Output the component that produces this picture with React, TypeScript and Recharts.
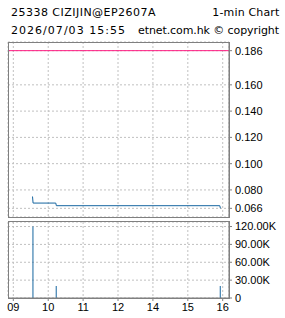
import React from "react";
import {
  ComposedChart,
  Line,
  Bar,
  XAxis,
  YAxis,
  CartesianGrid,
  ReferenceLine,
} from "recharts";

// ---- data ----
const priceTimes = ["09:33", "09:34", "10:13", "10:14", "15:55", "15:56"];
const prices = [0.075, 0.07, 0.07, 0.068, 0.068, 0.066];

const volTimes = ["09:34", "10:14", "15:56"];
const volumes = [120000, 20000, 20000];

const refPrice = 0.186;

const xTickLabels = ["09", "10", "11", "12", "14", "15", "16"];
const priceTicks = [0.066, 0.08, 0.1, 0.12, 0.14, 0.16, 0.186];
const volTicks = [0, 30000, 60000, 90000, 120000];

const titleLeft = "25338 CIZIJIN@EP2607A";
const titleRight = "1-min Chart";
const subLeft = "2026/07/03 15:55";
const subRight = "etnet.com.hk © copyright";

// trading-time position: hours since 09:00 with lunch hour removed
const toX = (t: string) => {
  const [h, m] = t.split(":").map(Number);
  let v = h + m / 60 - 9;
  if (h >= 13) v -= 1;
  return v;
};

const priceData = priceTimes.map((t, i) => ({ x: toX(t), price: prices[i] }));
const volData = volTimes.map((t, i) => ({ x: toX(t), vol: volumes[i] }));
const xTicks = xTickLabels.map((_, i) => i);

const BLUE = "#1565a0";
const PINK = "#ff1a80";
const GRID = "#c0c0c0";
const BORDER = "#808080";
const AXIS_FONT = "'Liberation Sans', Arial, sans-serif";
const HEAD_FONT = "'DejaVu Sans', Verdana, sans-serif";

const xDomain: [number, number] = [-0.152, 6.18];

const Box = ({ left, top, width, height }: any) => (
  <div
    style={{
      position: "absolute",
      left,
      top,
      width,
      height,
      border: `1px solid ${BORDER}`,
      boxSizing: "border-box",
      pointerEvents: "none",
    }}
  />
);

export default function App() {
  const headProps = {
    fontFamily: HEAD_FONT,
    fontSize: 11,
    fill: "#000",
    lengthAdjust: "spacing" as const,
  };
  return (
    <div
      style={{
        position: "absolute",
        left: 0,
        top: 0,
        width: 285,
        height: 318,
        background: "#fff",
        overflow: "hidden",
      }}
    >
      <svg
        width={285}
        height={40}
        style={{ position: "absolute", left: 0, top: 0 }}
      >
        <text {...headProps} x={11} y={15.5} textLength={144.5}>
          {titleLeft}
        </text>
        <text {...headProps} x={212.3} y={15.5} textLength={67}>
          {titleRight}
        </text>
        <text {...headProps} x={11} y={33.5} textLength={114}>
          {subLeft}
        </text>
        <text {...headProps} x={138} y={33.5} textLength={141}>
          {subRight}
        </text>
      </svg>

      <div style={{ position: "absolute", left: 0, top: 0 }}>
        <ComposedChart
          width={285}
          height={225}
          data={priceData}
          margin={{ top: 42, right: 0, bottom: 8, left: 8 }}
        >
          <CartesianGrid stroke={GRID} strokeDasharray="2 2" />
          <XAxis
            type="number"
            dataKey="x"
            domain={xDomain}
            ticks={xTicks}
            allowDataOverflow
            hide
          />
          <YAxis
            orientation="right"
            type="number"
            domain={[0.0594, 0.1926]}
            ticks={priceTicks}
            allowDataOverflow
            width={56}
            axisLine={{ stroke: BORDER }}
            tickLine={{ stroke: BORDER }}
            tickSize={3}
            tickMargin={3}
            interval={0}
            tick={{ fill: "#000", fontSize: 11, fontFamily: AXIS_FONT, textAnchor: "start" }}
            tickFormatter={(v: number) => v.toFixed(3)}
          />
          <ReferenceLine y={refPrice} stroke={PINK} strokeWidth={1} ifOverflow="extendDomain" />
          <Line
            type="linear"
            dataKey="price"
            stroke={BLUE}
            strokeWidth={1}
            dot={false}
            isAnimationActive={false}
          />
        </ComposedChart>
      </div>
      <Box left={8} top={42} width={222} height={176} />

      <div style={{ position: "absolute", left: 0, top: 0 }}>
        <ComposedChart
          width={285}
          height={318}
          data={volData}
          margin={{ top: 222, right: 0, bottom: 0, left: 8 }}
        >
          <CartesianGrid stroke={GRID} strokeDasharray="2 2" />
          <XAxis
            type="number"
            dataKey="x"
            domain={xDomain}
            ticks={xTicks}
            allowDataOverflow
            height={20}
            interval={0}
            axisLine={{ stroke: BORDER }}
            tickLine={{ stroke: BORDER }}
            tickSize={3}
            tickMargin={2}
            tick={{ fill: "#000", fontSize: 11, fontFamily: AXIS_FONT }}
            tickFormatter={(v: number) => xTickLabels[v] ?? ""}
          />
          <YAxis
            orientation="right"
            type="number"
            domain={[0, 127600]}
            ticks={volTicks}
            allowDataOverflow
            width={56}
            interval={0}
            axisLine={{ stroke: BORDER }}
            tickLine={{ stroke: BORDER }}
            tickSize={3}
            tickMargin={3}
            tick={{ fill: "#000", fontSize: 11, fontFamily: AXIS_FONT, textAnchor: "start" }}
            tickFormatter={(v: number) => (v === 0 ? "0" : (v / 1000).toFixed(2) + "K")}
          />
          <Bar dataKey="vol" fill={BLUE} barSize={1} isAnimationActive={false} />
        </ComposedChart>
      </div>
      <Box left={8} top={221} width={222} height={78} />
    </div>
  );
}
